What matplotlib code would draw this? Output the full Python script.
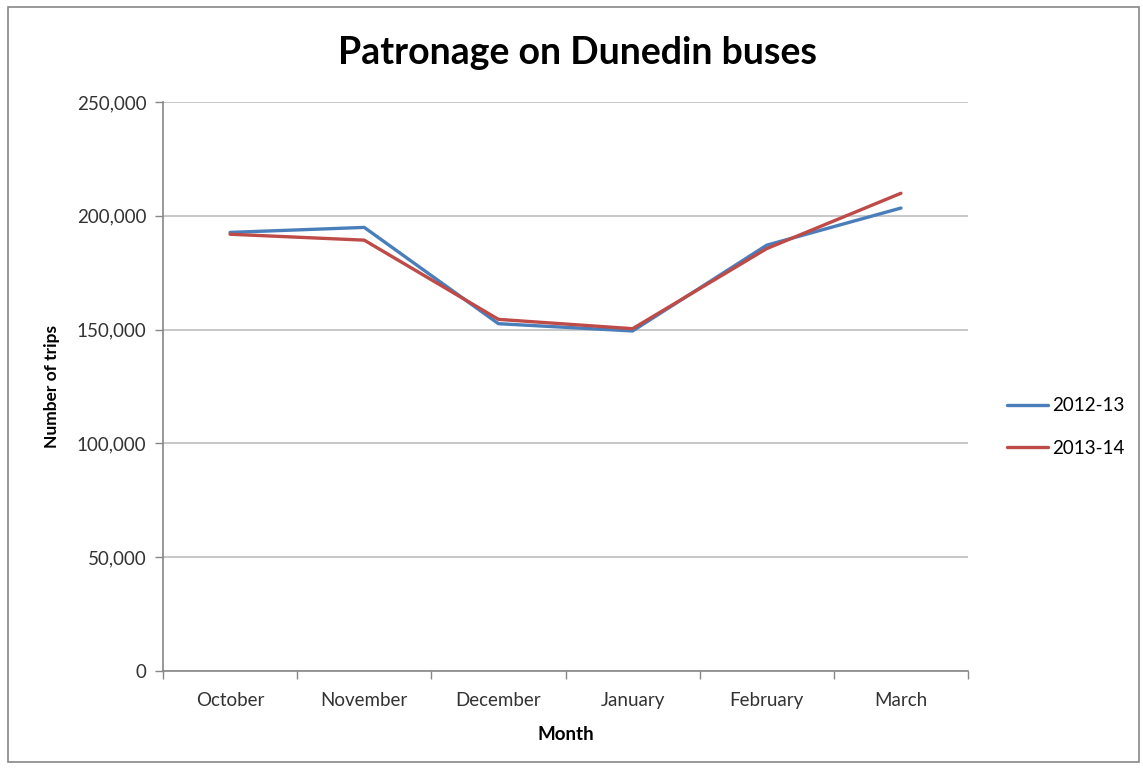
import matplotlib
matplotlib.use("Agg")
import matplotlib.pyplot as plt
from matplotlib.ticker import FuncFormatter, FixedLocator
from matplotlib.patches import Rectangle

months = ["October", "November", "December", "January", "February", "March"]
series_2012_13 = [192700, 194900, 152600, 149400, 187100, 203400]
series_2013_14 = [191900, 189300, 154500, 150400, 185600, 209900]
series_names = ["2012-13", "2013-14"]
y_ticks = [0, 50000, 100000, 150000, 200000, 250000]

plt.rcParams['font.family'] = ['Lato', 'DejaVu Sans']

fig = plt.figure(figsize=(11.43, 7.69), dpi=100)
fig.patches.append(Rectangle((8/1143, 7/769), 1131/1143, 755/769, transform=fig.transFigure,
                             fill=False, edgecolor='#888888', linewidth=1.2))
ax = fig.add_axes([163/1143, 1 - 671/769, (968-163)/1143, (671-102)/769])

x = list(range(len(months)))
ax.plot(x, series_2012_13, color='#4A7EBB', linewidth=2.4, label=series_names[0], solid_capstyle='round')
ax.plot(x, series_2013_14, color='#BE4B48', linewidth=2.4, label=series_names[1], solid_capstyle='round')

ax.set_xlim(-0.5, len(months) - 0.5)
ax.set_ylim(0, 250000)
ax.set_yticks(y_ticks)
ax.yaxis.set_major_formatter(FuncFormatter(lambda v, p: f"{int(v):,}"))
ax.set_xticks(x)
ax.set_xticklabels(months)
ax.xaxis.set_minor_locator(FixedLocator([i - 0.5 for i in range(len(months) + 1)]))
ax.tick_params(axis='x', which='major', length=0, pad=15, labelsize=13.5, labelcolor='#333333')
ax.tick_params(axis='x', which='minor', length=6, color='#868686', width=1)
ax.tick_params(axis='y', which='major', length=6, color='#868686', width=1, labelsize=13.5, pad=6, labelcolor='#333333')

ax.grid(axis='y', color='#BEBEBE', linewidth=1.2)
ax.set_axisbelow(True)
for s in ['top', 'right']:
    ax.spines[s].set_visible(False)
for s in ['left', 'bottom']:
    ax.spines[s].set_color('#868686')
    ax.spines[s].set_linewidth(1.2)

ax.set_xlabel("Month", fontsize=13.5, fontweight='bold', labelpad=12)
ax.set_ylabel("Number of trips", fontsize=12.5, fontweight='bold', labelpad=12)
fig.text(578/1143, 1 - 53/769, "Patronage on Dunedin buses", ha='center', va='center',
         fontsize=27, fontweight='bold')

ax.legend(loc='center left', bbox_to_anchor=(990/1143, 1 - 427/769), bbox_transform=fig.transFigure,
          frameon=False, fontsize=13.5, handlelength=2.2, handletextpad=0.2, labelspacing=1.35)

fig.savefig("out.png", dpi=100)
